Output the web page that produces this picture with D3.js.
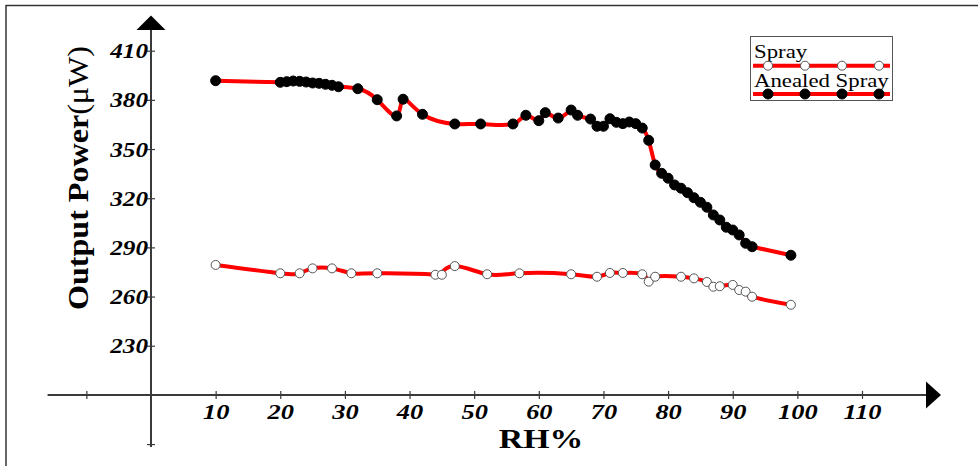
<!DOCTYPE html>
<html>
<head>
<meta charset="utf-8">
<script src="https://cdn.jsdelivr.net/npm/d3@7"></script>
<style>
  body { margin: 0; background: #fff; }
  svg { display: block; }
</style>
</head>
<body>
<svg id="chart" width="978" height="466"></svg>
<script>
// ---- data ----
const rhSpray = [10, 20, 23, 25, 28, 31, 35, 44, 45, 47, 52, 57, 65, 69, 71, 73, 76, 77, 78, 82, 84, 86, 87, 88, 90, 91, 92, 93, 99];
const powerSpray = [279.3, 274.2, 274.2, 277.2, 277.2, 274.2, 274.2, 273.3, 273.3, 278.6, 273.6, 274.2, 273.6, 272.1, 274.4, 274.4, 273.6, 269.1, 272.1, 272.1, 271.1, 268.9, 266.0, 266.3, 267.1, 264.0, 263.0, 259.9, 255.0];

const rhAnneal = [10, 20, 21, 22, 23, 24, 25, 26, 27, 28, 29, 32, 35, 38, 39, 42, 47, 51, 56, 58, 60, 61, 63, 65, 66, 68, 69, 70, 71, 72, 73, 74, 75, 76, 77, 78, 79, 80, 81, 82, 83, 84, 85, 86, 87, 88, 89, 90, 91, 92, 93, 99];
const powerAnneal = [391.7, 390.7, 391.1, 391.5, 391.3, 390.9, 390.3, 390.1, 389.5, 388.9, 388.0, 386.8, 380.1, 370.2, 380.4, 371.2, 365.3, 365.3, 365.3, 370.6, 367.3, 372.2, 368.9, 373.8, 370.6, 368.3, 363.9, 363.9, 368.5, 366.3, 365.5, 366.5, 365.5, 362.8, 355.3, 340.3, 335.2, 332.2, 328.1, 326.1, 323.4, 320.3, 317.5, 314.5, 309.8, 306.7, 302.3, 300.6, 297.6, 292.5, 290.4, 285.2];

const xTicks = [-10, 10, 20, 30, 40, 50, 60, 70, 80, 90, 100, 110];
const yTicks = [170, 230, 260, 290, 320, 350, 380, 410];
const legendNames = ["Spray", "Anealed Spray"];

const serif = "'Liberation Serif', 'Times New Roman', serif";
const axisColor = "#3a3a3a";
const stretch = 1.2; // the picture's text is a bit wide

const svg = d3.select("#chart");

// outer frame (top + left only)
svg.append("line").attr("x1", 6).attr("x2", 978).attr("y1", 5.5).attr("y2", 5.5)
  .attr("stroke", "#333").attr("stroke-width", 1.5);
svg.append("line").attr("x1", 6).attr("x2", 6).attr("y1", 5).attr("y2", 466)
  .attr("stroke", "#333").attr("stroke-width", 1.5);

// scales
const x = d3.scaleLinear().domain([0, 110]).range([151, 862]);
const y = d3.scaleLinear().domain([200, 410]).range([394.9, 50.7]);

const x0 = x(0), y0 = y(200);

// axis lines with arrows
svg.append("line").attr("x1", x(-16)).attr("x2", 928).attr("y1", y0).attr("y2", y0)
  .attr("stroke", axisColor).attr("stroke-width", 2);
svg.append("path").attr("d", `M926,${y0 - 13.5}L941,${y0}L926,${y0 + 13.5}Z`).attr("fill", "#000");

svg.append("line").attr("x1", x0).attr("x2", x0).attr("y1", 28).attr("y2", 447)
  .attr("stroke", axisColor).attr("stroke-width", 2);
svg.append("path").attr("d", `M${x0 - 14.5},30L${x0},15.5L${x0 + 14.5},30Z`).attr("fill", "#000");

// x axis ticks
const gx = svg.append("g").attr("transform", `translate(0,${y0})`)
  .call(d3.axisBottom(x).tickValues(xTicks).tickSize(4).tickPadding(6)
    .tickFormat(d => d < 0 ? "" : d));
gx.select(".domain").remove();
gx.selectAll(".tick line").attr("y1", -4).attr("stroke", axisColor).attr("stroke-width", 1.2);
gx.selectAll(".tick text")
  .attr("y", 0).attr("dy", 0)
  .attr("transform", `translate(0,24) scale(${stretch},1)`)
  .attr("fill", "#000")
  .style("font-family", serif).style("font-size", "22px")
  .style("font-weight", "bold").style("font-style", "italic");

// y axis ticks
const gy = svg.append("g").attr("transform", `translate(${x0},0)`)
  .call(d3.axisLeft(y).tickValues(yTicks).tickSize(4).tickPadding(4)
    .tickFormat(d => d < 200 ? "" : d));
gy.select(".domain").remove();
gy.selectAll(".tick line").attr("x1", 4).attr("stroke", axisColor).attr("stroke-width", 1.2);
gy.selectAll(".tick text")
  .attr("x", 0).attr("dy", 0)
  .attr("transform", `translate(-3,7) scale(${stretch},1)`)
  .attr("fill", "#000")
  .style("font-family", serif).style("font-size", "21px")
  .style("font-weight", "bold").style("font-style", "italic");

// axis titles
svg.append("text")
  .attr("transform", `translate(541,448) scale(1.25,1)`)
  .attr("text-anchor", "middle")
  .style("font-family", serif).style("font-size", "27px").style("font-weight", "bold")
  .text("RH%");

const yl = svg.append("text")
  .attr("transform", "translate(88,178) rotate(-90)")
  .attr("text-anchor", "middle")
  .attr("textLength", 264).attr("lengthAdjust", "spacingAndGlyphs")
  .style("font-family", serif).style("font-size", "30px");
yl.append("tspan").style("font-weight", "bold").text("Output Power");
yl.append("tspan").text("(μW)");

// series
const line = d3.line().curve(d3.curveNatural).x(d => x(d[0])).y(d => y(d[1]));
const spray = rhSpray.map((r, i) => [r, powerSpray[i]]);
const anneal = rhAnneal.map((r, i) => [r, powerAnneal[i]]);

function drawSeries(pts, filled) {
  svg.append("path").datum(pts).attr("d", line)
    .attr("fill", "none").attr("stroke", "#ff0000").attr("stroke-width", 4);
  svg.append("g").selectAll("circle").data(pts).join("circle")
    .attr("cx", d => x(d[0])).attr("cy", d => y(d[1]))
    .attr("r", filled ? 5 : 4.5)
    .attr("fill", filled ? "#000" : "#fff")
    .attr("stroke", filled ? "#000" : "#555")
    .attr("stroke-width", 1);
}
drawSeries(spray, false);
drawSeries(anneal, true);

// legend
const legend = svg.append("g");
legend.append("rect").attr("x", 750.5).attr("y", 36.5).attr("width", 142).attr("height", 64)
  .attr("fill", "#fff").attr("stroke", "#555").attr("stroke-width", 1);
const markerX = [768, 805, 842, 879];
legendNames.forEach((name, i) => {
  const ly = 65.7 + i * 28.3;
  legend.append("text")
    .attr("transform", `translate(754,${ly - 7.5}) scale(${stretch},1)`)
    .style("font-family", serif).style("font-size", "19px")
    .text(name);
  legend.append("line").attr("x1", 753).attr("x2", 890).attr("y1", ly).attr("y2", ly)
    .attr("stroke", "#ff0000").attr("stroke-width", 4);
  legend.selectAll(null).data(markerX).join("circle")
    .attr("cx", d => d).attr("cy", ly)
    .attr("r", i === 0 ? 4.5 : 5)
    .attr("fill", i === 0 ? "#fff" : "#000")
    .attr("stroke", i === 0 ? "#555" : "#000").attr("stroke-width", 1);
});
</script>
</body>
</html>
